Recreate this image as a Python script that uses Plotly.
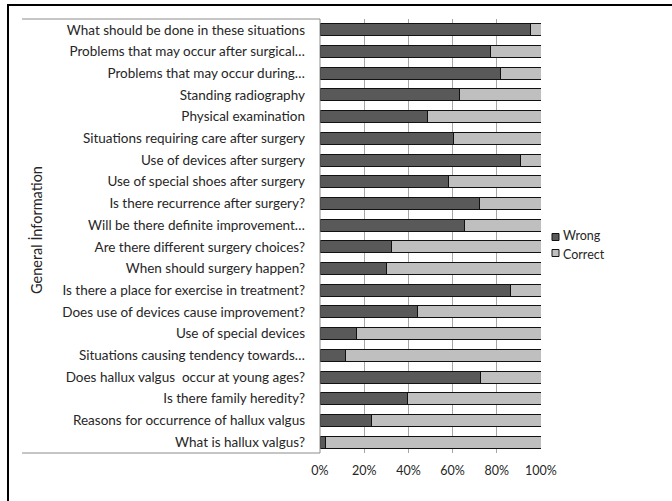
import plotly.graph_objects as go

categories = [
    "What should be done in these situations",
    "Problems that may occur after surgical…",
    "Problems that may occur during…",
    "Standing radiography",
    "Physical examination",
    "Situations requiring care after surgery",
    "Use of devices after surgery",
    "Use of special shoes after surgery",
    "Is there recurrence after surgery?",
    "Will be there definite improvement…",
    "Are there different surgery choices?",
    "When should surgery happen?",
    "Is there a place for exercise in treatment?",
    "Does use of devices cause improvement?",
    "Use of special devices",
    "Situations causing tendency towards…",
    "Does hallux valgus  occur at young ages?",
    "Is there family heredity?",
    "Reasons for occurrence of hallux valgus",
    "What is hallux valgus?",
]
wrong = [95.3, 77.0, 81.6, 63.0, 48.8, 60.5, 90.7, 58.1, 72.3, 65.2,
         32.4, 30.3, 86.0, 44.1, 16.4, 11.7, 72.4, 39.6, 23.5, 2.3]
correct = [round(100 - w, 1) for w in wrong]
tick_vals = [0, 20, 40, 60, 80, 100]
tick_text = ["0%", "20%", "40%", "60%", "80%", "100%"]
series_names = ["Wrong", "Correct"]
series_colors = ["#595959", "#bfbfbf"]
axis_title = "General İnformation"

W, H = 672, 501
ML, MR, MT, MB = 320, 131, 19, 48
FONT = "Lato, 'Liberation Sans', sans-serif"
TXT = "#262626"
LEG_TEXT_X = 563
LEG_ROWS_Y = [237, 253]


def px_x(p):
    return (p - ML) / (W - ML - MR)


def px_y(p):
    return 1 - (p - MT) / (H - MT - MB)


fig = go.Figure()
for vals, name, col in zip([wrong, correct], series_names, series_colors):
    fig.add_trace(go.Bar(
        y=categories, x=vals, name=name, orientation="h", showlegend=False,
        marker=dict(color=col, line=dict(color="#111111", width=1)),
    ))
# legend entries (text from legend; small swatches drawn next to them)
for name, col in zip(series_names, series_colors):
    fig.add_trace(go.Scatter(
        x=[None], y=[None], mode="markers", name=name,
        marker=dict(symbol="square", size=1, color="rgba(0,0,0,0)",
                    line=dict(color="rgba(0,0,0,0)", width=0)),
    ))

shapes = [
    dict(type="rect", xref="paper", yref="paper",
         x0=px_x(8), x1=px_x(720), y0=px_y(5), y1=px_y(560),
         line=dict(color="#000000", width=2), fillcolor="rgba(0,0,0,0)", layer="above"),
    dict(type="line", xref="paper", yref="paper",
         x0=px_x(22), x1=px_x(320), y0=px_y(19), y1=px_y(19),
         line=dict(color="#8c8c8c", width=1)),
    dict(type="line", xref="paper", yref="paper",
         x0=px_x(22), x1=px_x(320), y0=px_y(453), y1=px_y(453),
         line=dict(color="#8c8c8c", width=1)),
    dict(type="line", xref="paper", yref="paper",
         x0=0, x1=0, y0=0, y1=1,
         line=dict(color="#8c8c8c", width=1)),
]
for yc, col in zip(LEG_ROWS_Y, series_colors):
    shapes.append(dict(type="rect", xref="paper", yref="paper",
                       x0=px_x(552), x1=px_x(559), y0=px_y(yc - 3.5), y1=px_y(yc + 3.5),
                       fillcolor=col, line=dict(color="#111111", width=1)))

fig.update_layout(
    width=W, height=H,
    margin=dict(l=ML, r=MR, t=MT, b=MB, pad=0),
    barmode="stack", bargap=0.45,
    plot_bgcolor="white", paper_bgcolor="white",
    font=dict(family=FONT, size=12.5, color=TXT),
    showlegend=True,
    legend=dict(x=px_x(LEG_TEXT_X - 40), y=px_y(sum(LEG_ROWS_Y) / 2),
                xanchor="left", yanchor="middle", bgcolor="rgba(0,0,0,0)",
                font=dict(size=12.5, family=FONT, color=TXT),
                itemwidth=30, tracegroupgap=0, traceorder="normal"),
    xaxis=dict(range=[0, 100], tickvals=tick_vals, ticktext=tick_text,
               showgrid=True, gridcolor="#a6a6a6", gridwidth=1,
               zeroline=False, showline=False, ticks="", ticklabelstandoff=8,
               tickfont=dict(size=12.5, family=FONT, color=TXT)),
    yaxis=dict(autorange="reversed", showgrid=False, zeroline=False,
               showline=False, ticks="", ticklabelstandoff=14,
               tickfont=dict(size=13.5, family=FONT, color=TXT)),
    shapes=shapes,
    annotations=[dict(text=axis_title, xref="paper", yref="paper",
                      x=px_x(37), y=px_y(230), xanchor="center", yanchor="middle",
                      textangle=-90, showarrow=False,
                      font=dict(size=14.5, family=FONT, color=TXT))],
)

fig.write_html("out.html", post_script="document.body.style.margin='0';",
               config={"displayModeBar": False})
